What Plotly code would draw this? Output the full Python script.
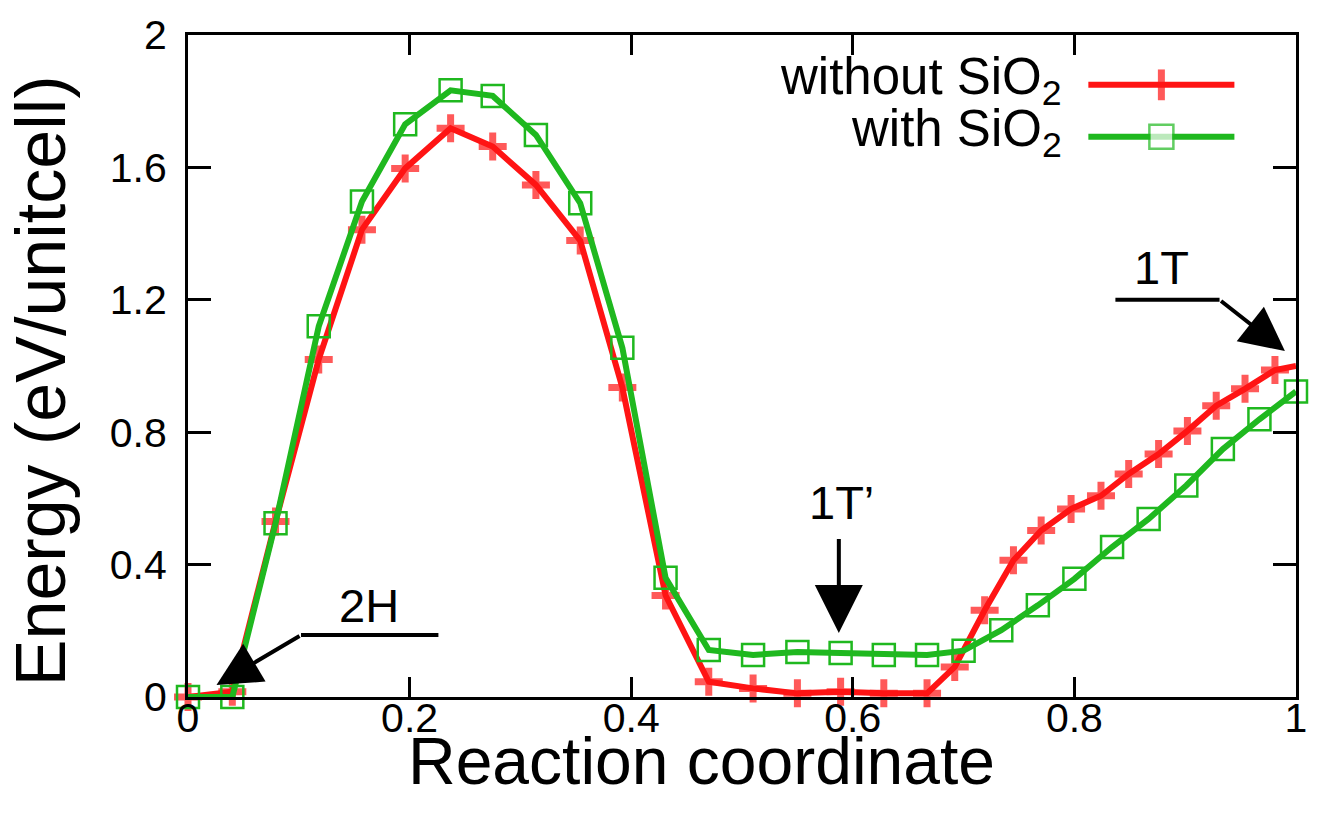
import plotly.graph_objects as go

# ---------------- data ----------------
x_without = [0.0, 0.040, 0.079, 0.118, 0.157, 0.196, 0.237, 0.275, 0.314, 0.354,
             0.392, 0.431, 0.470, 0.510, 0.550, 0.589, 0.628, 0.667,
             0.692, 0.719, 0.745, 0.770, 0.797, 0.824, 0.849, 0.876, 0.902,
             0.928, 0.954, 0.981, 1.0]
e_without = [0.0, 0.016, 0.53, 1.02, 1.412, 1.597, 1.718, 1.663, 1.547, 1.379,
             0.935, 0.307, 0.046, 0.026, 0.011, 0.016, 0.011, 0.011,
             0.091, 0.262, 0.413, 0.503, 0.568, 0.608, 0.674, 0.734, 0.804,
             0.880, 0.931, 0.988, 1.0]

x_with = [0.0, 0.040, 0.079, 0.118, 0.157, 0.196, 0.237, 0.275, 0.314, 0.354,
          0.392, 0.431, 0.470, 0.510, 0.550, 0.589, 0.628, 0.667,
          0.700, 0.734, 0.767, 0.800, 0.834, 0.867, 0.901, 0.934, 0.967, 1.0]
e_with = [0.0, 0.0, 0.525, 1.12, 1.497, 1.730, 1.833, 1.816, 1.698, 1.492,
          1.055, 0.36, 0.142, 0.127, 0.136, 0.133, 0.127, 0.127,
          0.14, 0.202, 0.277, 0.357, 0.453, 0.538, 0.639, 0.749, 0.839, 0.923]

series_names = ["without SiO<sub>2</sub>", "with SiO<sub>2</sub>"]
x_ticks = [0, 0.2, 0.4, 0.6, 0.8, 1.0]
x_tick_labels = ["0", "0.2", "0.4", "0.6", "0.8", "1"]
y_ticks = [0, 0.4, 0.8, 1.2, 1.6, 2.0]
y_tick_labels = ["0", "0.4", "0.8", "1.2", "1.6", "2"]

# ---------------- style ----------------
RED = "#ff1414"
GREEN = "#1fb81f"
FONT = "Liberation Sans, Arial, Helvetica, sans-serif"

fig = go.Figure()

# red series: last point has no visible marker (clipped in original)
red_sizes = [20] * (len(x_without) - 1) + [0]
fig.add_trace(go.Scatter(
    x=x_without, y=e_without, mode="lines+markers",
    line=dict(color=RED, width=6),
    marker=dict(symbol="cross-thin", size=red_sizes, color=RED,
                line=dict(color=RED, width=7)),
    cliponaxis=False, showlegend=False))

fig.add_trace(go.Scatter(
    x=x_with, y=e_with, mode="lines+markers",
    line=dict(color=GREEN, width=6),
    marker=dict(symbol="square-open", size=22, color=GREEN,
                line=dict(color=GREEN, width=2.5)),
    cliponaxis=False, showlegend=False))

# ---------------- legend (gnuplot style: text left, sample right) ----------------
key_x = [0.8126, 0.8785, 0.9444]
key_y_red = 0.9247
key_y_green = 0.8464
fig.add_trace(go.Scatter(
    x=key_x, y=[key_y_red] * 3, xaxis="x2", yaxis="y2", mode="lines+markers",
    line=dict(color=RED, width=6),
    marker=dict(symbol="line-ns", size=[0, 22, 0], color=RED,
                line=dict(color=RED, width=7)),
    cliponaxis=False, showlegend=False, hoverinfo="skip"))
fig.add_trace(go.Scatter(
    x=key_x, y=[key_y_green] * 3, xaxis="x2", yaxis="y2", mode="lines+markers",
    line=dict(color=GREEN, width=6),
    marker=dict(symbol="square", size=[0, 24, 0], color="white",
                line=dict(color=GREEN, width=2.5)),
    cliponaxis=False, showlegend=False, hoverinfo="skip"))

LEG_FONT = dict(size=51, color="black", family=FONT)
annotations = [
    dict(x=0.791, y=key_y_red, xref="x2", yref="y2", text=series_names[0],
         showarrow=False, xanchor="right", yanchor="middle",
         font=LEG_FONT, yshift=4),
    dict(x=0.791, y=key_y_green, xref="x2", yref="y2", text=series_names[1],
         showarrow=False, xanchor="right", yanchor="middle",
         font=LEG_FONT, yshift=4),
    # axis titles
    dict(x=0.463, y=-0.097, xref="paper", yref="paper", text="Reaction coordinate",
         showarrow=False, xanchor="center", yanchor="middle",
         font=dict(size=66, color="black", family=FONT)),
    dict(x=-0.133, y=0.478, xref="paper", yref="paper", text="Energy (eV/unitcell)",
         showarrow=False, xanchor="center", yanchor="middle", textangle=-90,
         font=dict(size=70, color="black", family=FONT)),
    # labels
    dict(x=0.163, y=0.277, xref="x", yref="y", text="2H", showarrow=False,
         font=dict(size=47, color="black", family=FONT)),
    dict(x=0.590, y=0.587, xref="x", yref="y", text="1T’", showarrow=False,
         font=dict(size=47, color="black", family=FONT)),
    dict(x=0.879, y=1.298, xref="x", yref="y", text="1T", showarrow=False,
         font=dict(size=47, color="black", family=FONT)),
    # arrows
    dict(x=0.0257, y=0.036, ax=0.102, ay=0.187, xref="x", yref="y",
         axref="x", ayref="y", text="", showarrow=True, arrowhead=2,
         arrowsize=2.2, arrowwidth=4, arrowcolor="black", standoff=0),
    dict(x=0.5874, y=0.193, ax=0.5874, ay=0.482, xref="x", yref="y",
         axref="x", ayref="y", text="", showarrow=True, arrowhead=2,
         arrowsize=2.4, arrowwidth=4, arrowcolor="black", standoff=0),
    dict(x=0.990, y=1.045, ax=0.931, ay=1.200, xref="x", yref="y",
         axref="x", ayref="y", text="", showarrow=True, arrowhead=2,
         arrowsize=2.2, arrowwidth=4, arrowcolor="black", standoff=0),
]

shapes = [
    dict(type="line", xref="x", yref="y", x0=0.102, x1=0.226, y0=0.187, y1=0.187,
         line=dict(color="black", width=4)),
    dict(type="line", xref="x", yref="y", x0=0.837, x1=0.931, y0=1.200, y1=1.200,
         line=dict(color="black", width=4)),
]

axis_common = dict(
    showline=True, linecolor="black", linewidth=3, mirror="allticks",
    ticks="inside", tickcolor="black", tickwidth=3,
    showgrid=False, zeroline=False,
    tickfont=dict(size=41, color="black", family=FONT),
)

fig.update_layout(
    width=1319, height=835,
    margin=dict(l=188, r=16, t=33, b=138),
    paper_bgcolor="white", plot_bgcolor="white",
    xaxis=dict(range=[0, 1], tickvals=x_ticks, ticktext=x_tick_labels,
               ticklen=20, ticklabelstandoff=-17, **axis_common),
    yaxis=dict(range=[0, 2], tickvals=y_ticks, ticktext=y_tick_labels,
               ticklen=23, ticklabelstandoff=10, **axis_common),
    xaxis2=dict(range=[0, 1], overlaying="x", visible=False, domain=[0, 1]),
    yaxis2=dict(range=[0, 1], overlaying="y", visible=False, domain=[0, 1]),
    annotations=annotations, shapes=shapes,
    showlegend=False,
)

fig.write_html("out.html")
